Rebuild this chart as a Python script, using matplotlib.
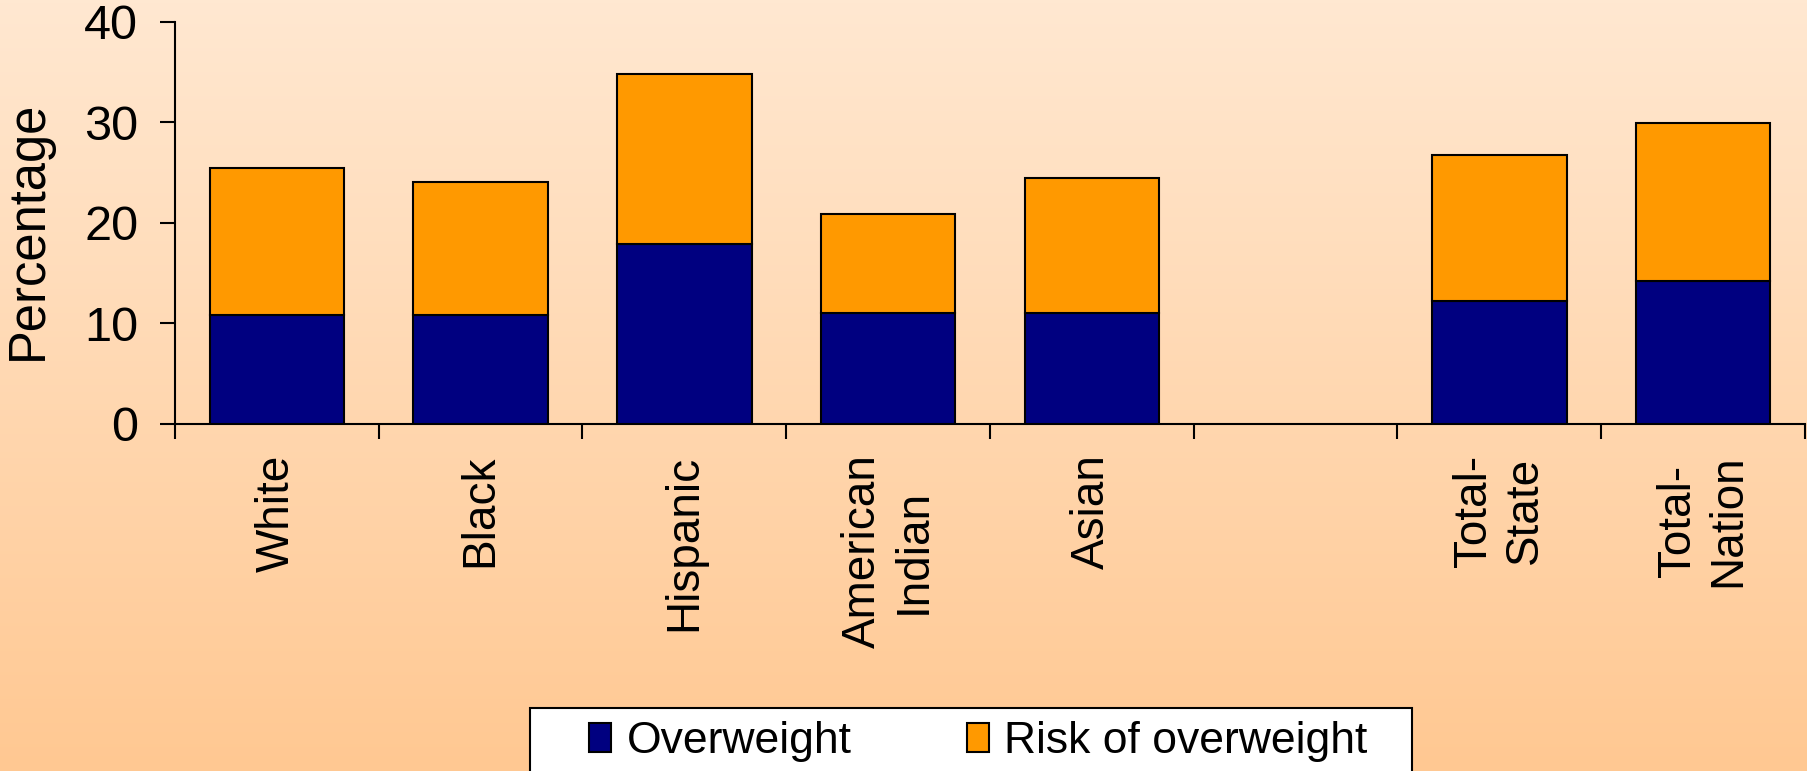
import numpy as np
import matplotlib
matplotlib.use("Agg")
import matplotlib.pyplot as plt
from matplotlib.patches import Rectangle

# values (percent)
groups = ['White', 'Black', 'Hispanic', 'American\nIndian', 'Asian', 'Total-\nState', 'Total-\nNation']
overweight = [10.8, 10.8, 17.9, 11.0, 11.0, 12.2, 14.2]
risk_of_overweight = [14.7, 13.3, 16.9, 9.9, 13.5, 14.5, 15.7]
# one empty slot between the ethnic groups and the totals
slots = [0, 1, 2, 3, 4, 6, 7]
n_slots = 8
y_ticks = [0, 10, 20, 30, 40]

def main():
    plt.rcParams['font.family'] = ['Liberation Sans', 'DejaVu Sans']

    fig = plt.figure(figsize=(18.08, 7.71), dpi=100)

    # peach gradient backdrop
    bg = fig.add_axes([0, 0, 1, 1], zorder=-10)
    top = np.array([255, 232, 209]) / 255
    bottom = np.array([255, 200, 146]) / 255
    t = np.linspace(0, 1, 256)[:, None]
    grad = top + (bottom - top) * t
    bg.imshow(grad[:, None, :], aspect='auto', extent=[0, 1, 0, 1])
    bg.set_axis_off()

    ax = fig.add_axes([0.0968, 0.4501, 0.9015, 0.5218])
    ax.set_facecolor('none')

    ax.bar(slots, overweight, width=0.66, color='#000080', edgecolor='black',
           linewidth=1.5, label='Overweight', zorder=3)
    ax.bar(slots, risk_of_overweight, width=0.66, bottom=overweight, color='#FF9900',
           edgecolor='black', linewidth=1.5, label='Risk of overweight', zorder=3)

    ax.set_xlim(-0.5, n_slots - 0.5)
    ax.set_ylim(0, 40)
    ax.set_yticks(y_ticks)

    # ticks sit on the slot boundaries, labels in the middle of each slot
    ax.set_xticks(np.arange(-0.5, n_slots, 1.0))
    ax.set_xticklabels([])
    ax.set_xticks(slots, minor=True)
    ax.set_xticklabels(groups, minor=True, rotation=90, fontsize=33,
                       va='top', ha='center', multialignment='center')
    ax.tick_params(axis='x', which='minor', length=0, pad=22)
    ax.tick_params(axis='x', which='major', direction='out', length=10.5, width=1.5)
    ax.tick_params(axis='y', direction='out', length=10.5, width=1.5, labelsize=35, pad=16)

    for side in ['top', 'right']:
        ax.spines[side].set_visible(False)
    for side in ['left', 'bottom']:
        ax.spines[side].set_linewidth(1.5)

    ax.set_ylabel('Percentage', fontsize=36.5)
    ax.yaxis.set_label_coords(-0.075, 0.482)

    # legend box runs off the bottom of the picture
    fig.patches.append(Rectangle((530 / 1808, -0.1), 882 / 1808, 0.1 + 1 - 708 / 771,
                                 transform=fig.transFigure, facecolor='white',
                                 edgecolor='black', linewidth=1.5, zorder=1))
    handles, labels = ax.get_legend_handles_labels()
    leg = fig.legend(handles, labels, loc='center left', bbox_to_anchor=(0.3038, 1 - 742 / 771),
                     ncol=2, frameon=False, fontsize=32, handlelength=0.5, handleheight=0.62,
                     handletextpad=0.34, columnspacing=2.6)
    leg.set_zorder(5)

    fig.savefig('out.png', dpi=100)
    plt.close(fig)

if __name__ == "__main__":
    main()
